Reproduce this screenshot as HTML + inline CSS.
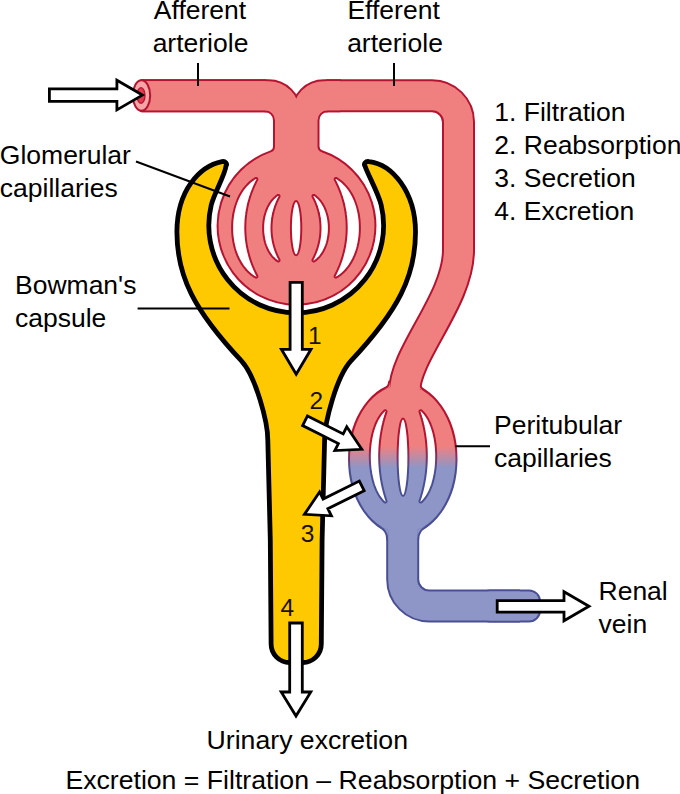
<!DOCTYPE html>
<html><head><meta charset="utf-8"><style>
html,body{margin:0;padding:0;background:#fff;}
svg{display:block;}
</style></head><body>
<svg width="680" height="794" viewBox="0 0 680 794">
<rect width="680" height="794" fill="#fff"/>
<defs><linearGradient id="gf" gradientUnits="userSpaceOnUse" x1="0" y1="446" x2="0" y2="468"><stop offset="0" stop-color="#F08080"/><stop offset="1" stop-color="#8D96C7"/></linearGradient><linearGradient id="gs" gradientUnits="userSpaceOnUse" x1="0" y1="446" x2="0" y2="468"><stop offset="0" stop-color="#B51430"/><stop offset="1" stop-color="#4A4F94"/></linearGradient></defs>
<g fill="none" stroke="url(#gs)" stroke-width="33.0"><path d="M 141.5,95.75 H 266.25"/><path d="M 326.25,95.75 H 432 A 26.5 26.5 0 0 1 458.5,122 V 250 C 458.5,300 404.5,354 404.5,392"/><path d="M 402.7,505 V 579.4 A 26.5 26.5 0 0 0 429.2,605.9 H 520"/></g>
<g fill="url(#gs)" stroke="url(#gs)" stroke-width="4.0" stroke-linejoin="round"><path d="M 265.0,110.25 A 10 10 0 0 1 275.0,120.25 V 146.63 A 6 6 0 0 1 270.97,152.30 A 77.9 77.9 0 1 0 321.57,152.14 A 6 6 0 0 1 317.5,146.46 V 120.25 A 10 10 0 0 1 327.5,110.25 V 100 H 265.0 Z"/><path d="M 141.5,81.25 H 268.56611479578777 A 31 31 0 0 1 299.56611479578777,112.25 V 110.25 H 141.5 Z"/><path d="M 323.93388520421223,81.25 A 31 31 0 0 0 292.93388520421223,112.25 V 110.25 H 340 V 81.25 Z"/><ellipse cx="402.75" cy="459" rx="52.75" ry="74"/><rect x="480" y="591.4" width="59" height="29" rx="10" ry="10"/><path d="M 390.00,382.19 Q 390.00,387.19 384.45,389.60 L 390.00,387.19 Z"/><path d="M 419.00,383.60 Q 419.00,388.60 424.30,391.46 L 419.00,388.60 Z"/><path d="M 388.20,539.13 Q 388.20,530.13 379.40,525.36 L 388.20,530.13 Z"/><path d="M 417.20,539.17 Q 417.20,530.17 426.00,525.42 L 417.20,530.17 Z"/></g>
<g fill="none" stroke="url(#gf)" stroke-width="29"><path d="M 141.5,95.75 H 266.25"/><path d="M 326.25,95.75 H 432 A 26.5 26.5 0 0 1 458.5,122 V 250 C 458.5,300 404.5,354 404.5,392"/><path d="M 402.7,505 V 579.4 A 26.5 26.5 0 0 0 429.2,605.9 H 520"/></g>
<g fill="url(#gf)" stroke="none"><path d="M 265.0,110.25 A 10 10 0 0 1 275.0,120.25 V 146.63 A 6 6 0 0 1 270.97,152.30 A 77.9 77.9 0 1 0 321.57,152.14 A 6 6 0 0 1 317.5,146.46 V 120.25 A 10 10 0 0 1 327.5,110.25 V 100 H 265.0 Z"/><path d="M 141.5,81.25 H 268.56611479578777 A 31 31 0 0 1 299.56611479578777,112.25 V 110.25 H 141.5 Z"/><path d="M 323.93388520421223,81.25 A 31 31 0 0 0 292.93388520421223,112.25 V 110.25 H 340 V 81.25 Z"/><ellipse cx="402.75" cy="459" rx="52.75" ry="74"/><rect x="480" y="591.4" width="59" height="29" rx="10" ry="10"/><path d="M 390.00,382.19 Q 390.00,387.19 384.45,389.60 L 390.00,387.19 Z"/><path d="M 419.00,383.60 Q 419.00,388.60 424.30,391.46 L 419.00,388.60 Z"/><path d="M 388.20,539.13 Q 388.20,530.13 379.40,525.36 L 388.20,530.13 Z"/><path d="M 417.20,539.17 Q 417.20,530.17 426.00,525.42 L 417.20,530.17 Z"/></g>
<g fill="#fff" stroke="url(#gs)" stroke-width="2.0" stroke-linejoin="round"><path d="M 255.44,277.46 L 255.68,277.57 L 255.93,277.63 L 256.19,277.64 L 256.44,277.60 L 256.69,277.51 L 256.91,277.37 L 257.09,277.20 L 257.24,276.98 L 257.35,276.75 L 257.41,276.49 L 257.41,276.24 L 257.36,275.98 L 257.27,275.74 L 256.60,274.47 L 256.59,274.46 L 255.76,272.80 L 255.76,272.79 L 254.96,271.12 L 254.95,271.11 L 254.19,269.44 L 254.18,269.43 L 253.45,267.74 L 253.44,267.73 L 252.74,266.03 L 252.73,266.02 L 252.06,264.31 L 252.06,264.30 L 251.42,262.59 L 251.42,262.58 L 250.81,260.85 L 250.80,260.84 L 250.23,259.11 L 250.23,259.10 L 249.68,257.36 L 249.68,257.35 L 249.17,255.60 L 249.16,255.59 L 248.68,253.84 L 248.68,253.83 L 248.23,252.07 L 248.23,252.06 L 247.81,250.30 L 247.81,250.29 L 247.43,248.52 L 247.43,248.51 L 247.07,246.73 L 247.07,246.72 L 246.75,244.94 L 246.75,244.93 L 246.46,243.15 L 246.46,243.14 L 246.21,241.35 L 246.20,241.34 L 245.98,239.55 L 245.98,239.54 L 245.79,237.75 L 245.79,237.74 L 245.63,235.95 L 245.63,235.93 L 245.50,234.14 L 245.50,234.13 L 245.40,232.33 L 245.40,232.32 L 245.34,230.52 L 245.34,230.51 L 245.30,228.71 L 245.30,228.70 L 245.30,226.90 L 245.30,226.89 L 245.34,225.09 L 245.34,225.08 L 245.40,223.28 L 245.40,223.27 L 245.50,221.47 L 245.50,221.46 L 245.63,219.67 L 245.63,219.65 L 245.79,217.86 L 245.79,217.85 L 245.98,216.06 L 245.98,216.05 L 246.20,214.26 L 246.21,214.25 L 246.46,212.46 L 246.46,212.45 L 246.75,210.67 L 246.75,210.66 L 247.07,208.88 L 247.07,208.87 L 247.43,207.09 L 247.43,207.08 L 247.81,205.31 L 247.81,205.30 L 248.23,203.54 L 248.23,203.53 L 248.68,201.77 L 248.68,201.76 L 249.16,200.01 L 249.17,200.00 L 249.68,198.25 L 249.68,198.24 L 250.23,196.50 L 250.23,196.49 L 250.80,194.76 L 250.81,194.75 L 251.42,193.02 L 251.42,193.01 L 252.06,191.30 L 252.06,191.29 L 252.73,189.58 L 252.74,189.57 L 253.44,187.87 L 253.45,187.86 L 254.18,186.17 L 254.19,186.16 L 254.95,184.49 L 254.96,184.48 L 255.76,182.81 L 255.76,182.80 L 256.59,181.14 L 256.60,181.13 L 257.27,179.86 L 257.36,179.62 L 257.41,179.36 L 257.41,179.11 L 257.35,178.85 L 257.24,178.62 L 257.09,178.40 L 256.91,178.23 L 256.69,178.09 L 256.44,178.00 L 256.19,177.96 L 255.93,177.97 L 255.68,178.03 L 255.44,178.14 L 254.08,178.97 L 254.02,179.01 L 252.45,180.08 L 252.40,180.12 L 250.89,181.27 L 250.84,181.31 L 249.39,182.54 L 249.34,182.59 L 247.95,183.90 L 247.90,183.94 L 246.57,185.32 L 246.53,185.37 L 245.25,186.82 L 245.22,186.87 L 244.00,188.39 L 243.97,188.43 L 242.81,190.02 L 242.78,190.06 L 241.69,191.71 L 241.66,191.76 L 240.62,193.46 L 240.60,193.51 L 239.62,195.27 L 239.60,195.31 L 238.68,197.13 L 238.66,197.17 L 237.81,199.03 L 237.79,199.07 L 236.99,200.98 L 236.98,201.02 L 236.24,202.97 L 236.23,203.01 L 235.55,205.00 L 235.54,205.04 L 234.93,207.07 L 234.92,207.11 L 234.36,209.16 L 234.35,209.20 L 233.86,211.29 L 233.85,211.33 L 233.42,213.44 L 233.42,213.47 L 233.05,215.61 L 233.04,215.64 L 232.74,217.80 L 232.73,217.83 L 232.48,220.00 L 232.48,220.04 L 232.30,222.21 L 232.29,222.25 L 232.17,224.44 L 232.17,224.47 L 232.11,226.67 L 232.11,226.70 L 232.11,228.90 L 232.11,228.93 L 232.17,231.13 L 232.17,231.16 L 232.29,233.35 L 232.30,233.39 L 232.48,235.56 L 232.48,235.60 L 232.73,237.77 L 232.74,237.80 L 233.04,239.96 L 233.05,239.99 L 233.42,242.13 L 233.42,242.16 L 233.85,244.27 L 233.86,244.31 L 234.35,246.40 L 234.36,246.44 L 234.92,248.49 L 234.93,248.53 L 235.54,250.56 L 235.55,250.60 L 236.23,252.59 L 236.24,252.63 L 236.98,254.58 L 236.99,254.62 L 237.79,256.53 L 237.81,256.57 L 238.66,258.43 L 238.68,258.47 L 239.60,260.29 L 239.62,260.33 L 240.60,262.09 L 240.62,262.14 L 241.66,263.84 L 241.69,263.89 L 242.78,265.54 L 242.81,265.58 L 243.97,267.17 L 244.00,267.21 L 245.22,268.73 L 245.25,268.78 L 246.53,270.23 L 246.57,270.28 L 247.90,271.66 L 247.95,271.70 L 249.34,273.01 L 249.39,273.06 L 250.84,274.29 L 250.89,274.33 L 252.40,275.48 L 252.45,275.52 L 254.02,276.59 L 254.08,276.63 L 255.44,277.46 Z"/><path d="M 279.41,196.80 L 279.50,196.57 L 279.55,196.33 L 279.55,196.08 L 279.51,195.84 L 279.42,195.61 L 279.29,195.40 L 279.12,195.22 L 278.93,195.07 L 278.70,194.96 L 278.46,194.90 L 278.22,194.89 L 277.97,194.92 L 277.74,194.99 L 277.52,195.11 L 277.03,195.45 L 276.97,195.49 L 275.96,196.27 L 275.90,196.31 L 274.93,197.14 L 274.88,197.19 L 273.94,198.07 L 273.90,198.12 L 273.00,199.05 L 272.96,199.10 L 272.10,200.08 L 272.06,200.13 L 271.25,201.15 L 271.21,201.20 L 270.43,202.27 L 270.40,202.32 L 269.66,203.44 L 269.63,203.48 L 268.93,204.64 L 268.91,204.68 L 268.25,205.88 L 268.22,205.92 L 267.60,207.15 L 267.58,207.19 L 267.00,208.46 L 266.99,208.50 L 266.45,209.79 L 266.43,209.84 L 265.93,211.16 L 265.92,211.20 L 265.46,212.55 L 265.45,212.59 L 265.03,213.97 L 265.02,214.01 L 264.65,215.41 L 264.64,215.45 L 264.31,216.87 L 264.30,216.90 L 264.01,218.34 L 264.00,218.38 L 263.75,219.83 L 263.74,219.87 L 263.54,221.33 L 263.53,221.37 L 263.36,222.84 L 263.36,222.88 L 263.24,224.36 L 263.23,224.40 L 263.15,225.89 L 263.15,225.92 L 263.11,227.42 L 263.11,227.45 L 263.11,228.95 L 263.11,228.98 L 263.15,230.48 L 263.15,230.51 L 263.23,232.00 L 263.24,232.04 L 263.36,233.52 L 263.36,233.56 L 263.53,235.03 L 263.54,235.07 L 263.74,236.53 L 263.75,236.57 L 264.00,238.02 L 264.01,238.06 L 264.30,239.50 L 264.31,239.53 L 264.64,240.95 L 264.65,240.99 L 265.02,242.39 L 265.03,242.43 L 265.45,243.81 L 265.46,243.85 L 265.92,245.20 L 265.93,245.24 L 266.43,246.56 L 266.45,246.61 L 266.99,247.90 L 267.00,247.94 L 267.58,249.21 L 267.60,249.25 L 268.22,250.48 L 268.25,250.52 L 268.91,251.72 L 268.93,251.76 L 269.63,252.92 L 269.66,252.96 L 270.40,254.08 L 270.43,254.13 L 271.21,255.20 L 271.25,255.25 L 272.06,256.27 L 272.10,256.32 L 272.96,257.30 L 273.00,257.35 L 273.90,258.28 L 273.94,258.33 L 274.88,259.21 L 274.93,259.26 L 275.90,260.09 L 275.96,260.13 L 276.97,260.91 L 277.03,260.95 L 277.52,261.29 L 277.74,261.41 L 277.97,261.48 L 278.22,261.51 L 278.46,261.50 L 278.70,261.44 L 278.93,261.33 L 279.12,261.18 L 279.29,261.00 L 279.42,260.79 L 279.51,260.56 L 279.55,260.32 L 279.55,260.07 L 279.50,259.83 L 279.41,259.60 L 279.12,259.08 L 279.12,259.07 L 278.54,257.92 L 278.53,257.91 L 277.98,256.77 L 277.97,256.76 L 277.44,255.60 L 277.43,255.59 L 276.92,254.43 L 276.92,254.42 L 276.43,253.25 L 276.42,253.24 L 275.96,252.07 L 275.95,252.06 L 275.51,250.88 L 275.51,250.87 L 275.09,249.68 L 275.09,249.67 L 274.69,248.48 L 274.69,248.47 L 274.32,247.28 L 274.31,247.27 L 273.97,246.07 L 273.96,246.06 L 273.64,244.85 L 273.63,244.84 L 273.33,243.64 L 273.33,243.62 L 273.05,242.42 L 273.05,242.40 L 272.79,241.19 L 272.79,241.18 L 272.56,239.96 L 272.56,239.95 L 272.35,238.73 L 272.35,238.72 L 272.16,237.50 L 272.16,237.49 L 272.00,236.27 L 271.99,236.25 L 271.86,235.03 L 271.85,235.02 L 271.74,233.79 L 271.74,233.78 L 271.64,232.55 L 271.64,232.54 L 271.57,231.31 L 271.57,231.30 L 271.53,230.07 L 271.53,230.06 L 271.50,228.83 L 271.50,228.81 L 271.50,227.59 L 271.50,227.57 L 271.53,226.34 L 271.53,226.33 L 271.57,225.10 L 271.57,225.09 L 271.64,223.86 L 271.64,223.85 L 271.74,222.62 L 271.74,222.61 L 271.85,221.38 L 271.86,221.37 L 271.99,220.15 L 272.00,220.13 L 272.16,218.91 L 272.16,218.90 L 272.35,217.68 L 272.35,217.67 L 272.56,216.45 L 272.56,216.44 L 272.79,215.22 L 272.79,215.21 L 273.05,214.00 L 273.05,213.98 L 273.33,212.78 L 273.33,212.76 L 273.63,211.56 L 273.64,211.55 L 273.96,210.34 L 273.97,210.33 L 274.31,209.13 L 274.32,209.12 L 274.69,207.93 L 274.69,207.92 L 275.09,206.73 L 275.09,206.72 L 275.51,205.53 L 275.51,205.52 L 275.95,204.34 L 275.96,204.33 L 276.42,203.16 L 276.43,203.15 L 276.92,201.98 L 276.92,201.97 L 277.43,200.81 L 277.44,200.80 L 277.97,199.64 L 277.98,199.63 L 278.53,198.49 L 278.54,198.48 L 279.12,197.33 L 279.12,197.32 L 279.41,196.80 Z"/><path d="M 314.48,195.11 L 314.26,194.99 L 314.03,194.92 L 313.78,194.89 L 313.54,194.90 L 313.30,194.96 L 313.07,195.07 L 312.88,195.22 L 312.71,195.40 L 312.58,195.61 L 312.49,195.84 L 312.45,196.08 L 312.45,196.33 L 312.50,196.57 L 312.59,196.80 L 312.88,197.32 L 312.88,197.33 L 313.46,198.48 L 313.47,198.49 L 314.02,199.63 L 314.03,199.64 L 314.56,200.80 L 314.57,200.81 L 315.08,201.97 L 315.08,201.98 L 315.57,203.15 L 315.58,203.16 L 316.04,204.33 L 316.05,204.34 L 316.49,205.52 L 316.49,205.53 L 316.91,206.72 L 316.91,206.73 L 317.31,207.92 L 317.31,207.93 L 317.68,209.12 L 317.69,209.13 L 318.03,210.33 L 318.04,210.34 L 318.36,211.55 L 318.37,211.56 L 318.67,212.76 L 318.67,212.78 L 318.95,213.98 L 318.95,214.00 L 319.21,215.21 L 319.21,215.22 L 319.44,216.44 L 319.44,216.45 L 319.65,217.67 L 319.65,217.68 L 319.84,218.90 L 319.84,218.91 L 320.00,220.13 L 320.01,220.15 L 320.14,221.37 L 320.15,221.38 L 320.26,222.61 L 320.26,222.62 L 320.36,223.85 L 320.36,223.86 L 320.43,225.09 L 320.43,225.10 L 320.47,226.33 L 320.47,226.34 L 320.50,227.57 L 320.50,227.59 L 320.50,228.81 L 320.50,228.83 L 320.47,230.06 L 320.47,230.07 L 320.43,231.30 L 320.43,231.31 L 320.36,232.54 L 320.36,232.55 L 320.26,233.78 L 320.26,233.79 L 320.15,235.02 L 320.14,235.03 L 320.01,236.25 L 320.00,236.27 L 319.84,237.49 L 319.84,237.50 L 319.65,238.72 L 319.65,238.73 L 319.44,239.95 L 319.44,239.96 L 319.21,241.18 L 319.21,241.19 L 318.95,242.40 L 318.95,242.42 L 318.67,243.62 L 318.67,243.64 L 318.37,244.84 L 318.36,244.85 L 318.04,246.06 L 318.03,246.07 L 317.69,247.27 L 317.68,247.28 L 317.31,248.47 L 317.31,248.48 L 316.91,249.67 L 316.91,249.68 L 316.49,250.87 L 316.49,250.88 L 316.05,252.06 L 316.04,252.07 L 315.58,253.24 L 315.57,253.25 L 315.08,254.42 L 315.08,254.43 L 314.57,255.59 L 314.56,255.60 L 314.03,256.76 L 314.02,256.77 L 313.47,257.91 L 313.46,257.92 L 312.88,259.07 L 312.88,259.08 L 312.59,259.60 L 312.50,259.83 L 312.45,260.07 L 312.45,260.32 L 312.49,260.56 L 312.58,260.79 L 312.71,261.00 L 312.88,261.18 L 313.07,261.33 L 313.30,261.44 L 313.54,261.50 L 313.78,261.51 L 314.03,261.48 L 314.26,261.41 L 314.48,261.29 L 314.97,260.95 L 315.03,260.91 L 316.04,260.13 L 316.10,260.09 L 317.07,259.26 L 317.12,259.21 L 318.06,258.33 L 318.10,258.28 L 319.00,257.35 L 319.04,257.30 L 319.90,256.32 L 319.94,256.27 L 320.75,255.25 L 320.79,255.20 L 321.57,254.13 L 321.60,254.08 L 322.34,252.96 L 322.37,252.92 L 323.07,251.76 L 323.09,251.72 L 323.75,250.52 L 323.78,250.48 L 324.40,249.25 L 324.42,249.21 L 325.00,247.94 L 325.01,247.90 L 325.55,246.61 L 325.57,246.56 L 326.07,245.24 L 326.08,245.20 L 326.54,243.85 L 326.55,243.81 L 326.97,242.43 L 326.98,242.39 L 327.35,240.99 L 327.36,240.95 L 327.69,239.53 L 327.70,239.50 L 327.99,238.06 L 328.00,238.02 L 328.25,236.57 L 328.26,236.53 L 328.46,235.07 L 328.47,235.03 L 328.64,233.56 L 328.64,233.52 L 328.76,232.04 L 328.77,232.00 L 328.85,230.51 L 328.85,230.48 L 328.89,228.98 L 328.89,228.95 L 328.89,227.45 L 328.89,227.42 L 328.85,225.92 L 328.85,225.89 L 328.77,224.40 L 328.76,224.36 L 328.64,222.88 L 328.64,222.84 L 328.47,221.37 L 328.46,221.33 L 328.26,219.87 L 328.25,219.83 L 328.00,218.38 L 327.99,218.34 L 327.70,216.90 L 327.69,216.87 L 327.36,215.45 L 327.35,215.41 L 326.98,214.01 L 326.97,213.97 L 326.55,212.59 L 326.54,212.55 L 326.08,211.20 L 326.07,211.16 L 325.57,209.84 L 325.55,209.79 L 325.01,208.50 L 325.00,208.46 L 324.42,207.19 L 324.40,207.15 L 323.78,205.92 L 323.75,205.88 L 323.09,204.68 L 323.07,204.64 L 322.37,203.48 L 322.34,203.44 L 321.60,202.32 L 321.57,202.27 L 320.79,201.20 L 320.75,201.15 L 319.94,200.13 L 319.90,200.08 L 319.04,199.10 L 319.00,199.05 L 318.10,198.12 L 318.06,198.07 L 317.12,197.19 L 317.07,197.14 L 316.10,196.31 L 316.04,196.27 L 315.03,195.49 L 314.97,195.45 L 314.48,195.11 Z"/><path d="M 336.56,178.14 L 336.32,178.03 L 336.07,177.97 L 335.81,177.96 L 335.56,178.00 L 335.31,178.09 L 335.09,178.23 L 334.91,178.40 L 334.76,178.62 L 334.65,178.85 L 334.59,179.11 L 334.59,179.36 L 334.64,179.62 L 334.73,179.86 L 335.40,181.13 L 335.41,181.14 L 336.24,182.80 L 336.24,182.81 L 337.04,184.48 L 337.05,184.49 L 337.81,186.16 L 337.82,186.17 L 338.55,187.86 L 338.56,187.87 L 339.26,189.57 L 339.27,189.58 L 339.94,191.29 L 339.94,191.30 L 340.58,193.01 L 340.58,193.02 L 341.19,194.75 L 341.20,194.76 L 341.77,196.49 L 341.77,196.50 L 342.32,198.24 L 342.32,198.25 L 342.83,200.00 L 342.84,200.01 L 343.32,201.76 L 343.32,201.77 L 343.77,203.53 L 343.77,203.54 L 344.19,205.30 L 344.19,205.31 L 344.57,207.08 L 344.57,207.09 L 344.93,208.87 L 344.93,208.88 L 345.25,210.66 L 345.25,210.67 L 345.54,212.45 L 345.54,212.46 L 345.79,214.25 L 345.80,214.26 L 346.02,216.05 L 346.02,216.06 L 346.21,217.85 L 346.21,217.86 L 346.37,219.65 L 346.37,219.67 L 346.50,221.46 L 346.50,221.47 L 346.60,223.27 L 346.60,223.28 L 346.66,225.08 L 346.66,225.09 L 346.70,226.89 L 346.70,226.90 L 346.70,228.70 L 346.70,228.71 L 346.66,230.51 L 346.66,230.52 L 346.60,232.32 L 346.60,232.33 L 346.50,234.13 L 346.50,234.14 L 346.37,235.93 L 346.37,235.95 L 346.21,237.74 L 346.21,237.75 L 346.02,239.54 L 346.02,239.55 L 345.80,241.34 L 345.79,241.35 L 345.54,243.14 L 345.54,243.15 L 345.25,244.93 L 345.25,244.94 L 344.93,246.72 L 344.93,246.73 L 344.57,248.51 L 344.57,248.52 L 344.19,250.29 L 344.19,250.30 L 343.77,252.06 L 343.77,252.07 L 343.32,253.83 L 343.32,253.84 L 342.84,255.59 L 342.83,255.60 L 342.32,257.35 L 342.32,257.36 L 341.77,259.10 L 341.77,259.11 L 341.20,260.84 L 341.19,260.85 L 340.58,262.58 L 340.58,262.59 L 339.94,264.30 L 339.94,264.31 L 339.27,266.02 L 339.26,266.03 L 338.56,267.73 L 338.55,267.74 L 337.82,269.43 L 337.81,269.44 L 337.05,271.11 L 337.04,271.12 L 336.24,272.79 L 336.24,272.80 L 335.41,274.46 L 335.40,274.47 L 334.73,275.74 L 334.64,275.98 L 334.59,276.24 L 334.59,276.49 L 334.65,276.75 L 334.76,276.98 L 334.91,277.20 L 335.09,277.37 L 335.31,277.51 L 335.56,277.60 L 335.81,277.64 L 336.07,277.63 L 336.32,277.57 L 336.56,277.46 L 337.92,276.63 L 337.98,276.59 L 339.55,275.52 L 339.60,275.48 L 341.11,274.33 L 341.16,274.29 L 342.61,273.06 L 342.66,273.01 L 344.05,271.70 L 344.10,271.66 L 345.43,270.28 L 345.47,270.23 L 346.75,268.78 L 346.78,268.73 L 348.00,267.21 L 348.03,267.17 L 349.19,265.58 L 349.22,265.54 L 350.31,263.89 L 350.34,263.84 L 351.38,262.14 L 351.40,262.09 L 352.38,260.33 L 352.40,260.29 L 353.32,258.47 L 353.34,258.43 L 354.19,256.57 L 354.21,256.53 L 355.01,254.62 L 355.02,254.58 L 355.76,252.63 L 355.77,252.59 L 356.45,250.60 L 356.46,250.56 L 357.07,248.53 L 357.08,248.49 L 357.64,246.44 L 357.65,246.40 L 358.14,244.31 L 358.15,244.27 L 358.58,242.16 L 358.58,242.13 L 358.95,239.99 L 358.96,239.96 L 359.26,237.80 L 359.27,237.77 L 359.52,235.60 L 359.52,235.56 L 359.70,233.39 L 359.71,233.35 L 359.83,231.16 L 359.83,231.13 L 359.89,228.93 L 359.89,228.90 L 359.89,226.70 L 359.89,226.67 L 359.83,224.47 L 359.83,224.44 L 359.71,222.25 L 359.70,222.21 L 359.52,220.04 L 359.52,220.00 L 359.27,217.83 L 359.26,217.80 L 358.96,215.64 L 358.95,215.61 L 358.58,213.47 L 358.58,213.44 L 358.15,211.33 L 358.14,211.29 L 357.65,209.20 L 357.64,209.16 L 357.08,207.11 L 357.07,207.07 L 356.46,205.04 L 356.45,205.00 L 355.77,203.01 L 355.76,202.97 L 355.02,201.02 L 355.01,200.98 L 354.21,199.07 L 354.19,199.03 L 353.34,197.17 L 353.32,197.13 L 352.40,195.31 L 352.38,195.27 L 351.40,193.51 L 351.38,193.46 L 350.34,191.76 L 350.31,191.71 L 349.22,190.06 L 349.19,190.02 L 348.03,188.43 L 348.00,188.39 L 346.78,186.87 L 346.75,186.82 L 345.47,185.37 L 345.43,185.32 L 344.10,183.94 L 344.05,183.90 L 342.66,182.59 L 342.61,182.54 L 341.16,181.31 L 341.11,181.27 L 339.60,180.12 L 339.55,180.08 L 337.98,179.01 L 337.92,178.97 L 336.56,178.14 Z"/><path d="M 386.49,412.01 L 386.55,411.77 L 386.56,411.52 L 386.52,411.28 L 386.44,411.04 L 386.32,410.83 L 386.16,410.64 L 385.96,410.49 L 385.74,410.37 L 385.51,410.30 L 385.26,410.28 L 385.01,410.30 L 384.77,410.37 L 384.55,410.49 L 384.36,410.64 L 383.43,411.54 L 383.37,411.59 L 382.38,412.66 L 382.33,412.71 L 381.37,413.86 L 381.33,413.91 L 380.41,415.13 L 380.37,415.18 L 379.48,416.47 L 379.45,416.52 L 378.60,417.88 L 378.58,417.93 L 377.76,419.35 L 377.74,419.40 L 376.97,420.89 L 376.95,420.93 L 376.21,422.48 L 376.20,422.52 L 375.50,424.13 L 375.49,424.17 L 374.83,425.83 L 374.82,425.86 L 374.20,427.57 L 374.19,427.61 L 373.62,429.36 L 373.61,429.40 L 373.07,431.20 L 373.06,431.23 L 372.57,433.07 L 372.56,433.10 L 372.11,434.98 L 372.10,435.01 L 371.69,436.92 L 371.68,436.95 L 371.31,438.89 L 371.31,438.92 L 370.98,440.88 L 370.97,440.91 L 370.69,442.90 L 370.68,442.93 L 370.43,444.94 L 370.43,444.97 L 370.22,447.00 L 370.22,447.03 L 370.06,449.07 L 370.06,449.10 L 369.93,451.15 L 369.93,451.18 L 369.85,453.24 L 369.85,453.27 L 369.81,455.34 L 369.81,455.36 L 369.81,457.44 L 369.81,457.46 L 369.85,459.53 L 369.85,459.56 L 369.93,461.62 L 369.93,461.65 L 370.06,463.70 L 370.06,463.73 L 370.22,465.77 L 370.22,465.80 L 370.43,467.83 L 370.43,467.86 L 370.68,469.87 L 370.69,469.90 L 370.97,471.89 L 370.98,471.92 L 371.31,473.88 L 371.31,473.91 L 371.68,475.85 L 371.69,475.88 L 372.10,477.79 L 372.11,477.82 L 372.56,479.70 L 372.57,479.73 L 373.06,481.57 L 373.07,481.60 L 373.61,483.40 L 373.62,483.44 L 374.19,485.19 L 374.20,485.23 L 374.82,486.94 L 374.83,486.97 L 375.49,488.63 L 375.50,488.67 L 376.20,490.28 L 376.21,490.32 L 376.95,491.87 L 376.97,491.91 L 377.74,493.40 L 377.76,493.45 L 378.58,494.87 L 378.60,494.92 L 379.45,496.28 L 379.48,496.33 L 380.37,497.62 L 380.41,497.67 L 381.33,498.89 L 381.37,498.94 L 382.33,500.09 L 382.38,500.14 L 383.37,501.21 L 383.43,501.26 L 384.36,502.16 L 384.55,502.31 L 384.77,502.43 L 385.01,502.50 L 385.26,502.52 L 385.51,502.50 L 385.74,502.43 L 385.96,502.31 L 386.16,502.16 L 386.32,501.97 L 386.44,501.76 L 386.52,501.52 L 386.56,501.28 L 386.55,501.03 L 386.49,500.79 L 386.30,500.27 L 386.30,500.26 L 385.78,498.70 L 385.77,498.69 L 385.27,497.12 L 385.27,497.11 L 384.79,495.53 L 384.78,495.53 L 384.32,493.94 L 384.32,493.93 L 383.88,492.33 L 383.87,492.32 L 383.45,490.72 L 383.45,490.71 L 383.05,489.10 L 383.04,489.09 L 382.66,487.47 L 382.66,487.46 L 382.30,485.83 L 382.30,485.82 L 381.95,484.18 L 381.95,484.18 L 381.63,482.53 L 381.63,482.52 L 381.33,480.88 L 381.33,480.87 L 381.04,479.21 L 381.04,479.21 L 380.78,477.54 L 380.78,477.54 L 380.54,475.87 L 380.54,475.86 L 380.32,474.19 L 380.31,474.19 L 380.11,472.51 L 380.11,472.50 L 379.93,470.83 L 379.93,470.82 L 379.77,469.14 L 379.77,469.13 L 379.63,467.45 L 379.63,467.44 L 379.51,465.75 L 379.51,465.74 L 379.40,464.06 L 379.40,464.05 L 379.32,462.36 L 379.32,462.35 L 379.26,460.66 L 379.26,460.65 L 379.22,458.96 L 379.22,458.95 L 379.20,457.25 L 379.20,457.25 L 379.20,455.55 L 379.20,455.55 L 379.22,453.85 L 379.22,453.84 L 379.26,452.15 L 379.26,452.14 L 379.32,450.45 L 379.32,450.44 L 379.40,448.75 L 379.40,448.74 L 379.51,447.06 L 379.51,447.05 L 379.63,445.36 L 379.63,445.35 L 379.77,443.67 L 379.77,443.66 L 379.93,441.98 L 379.93,441.97 L 380.11,440.30 L 380.11,440.29 L 380.31,438.61 L 380.32,438.61 L 380.54,436.94 L 380.54,436.93 L 380.78,435.26 L 380.78,435.26 L 381.04,433.59 L 381.04,433.59 L 381.33,431.93 L 381.33,431.92 L 381.63,430.28 L 381.63,430.27 L 381.95,428.62 L 381.95,428.62 L 382.30,426.98 L 382.30,426.97 L 382.66,425.34 L 382.66,425.33 L 383.04,423.71 L 383.05,423.70 L 383.45,422.09 L 383.45,422.08 L 383.87,420.48 L 383.88,420.47 L 384.32,418.87 L 384.32,418.86 L 384.78,417.27 L 384.79,417.27 L 385.27,415.69 L 385.27,415.68 L 385.77,414.11 L 385.78,414.10 L 386.30,412.54 L 386.30,412.53 L 386.49,412.01 Z"/><path d="M 421.64,410.64 L 421.45,410.49 L 421.23,410.37 L 420.99,410.30 L 420.74,410.28 L 420.49,410.30 L 420.26,410.37 L 420.04,410.49 L 419.84,410.64 L 419.68,410.83 L 419.56,411.04 L 419.48,411.28 L 419.44,411.52 L 419.45,411.77 L 419.51,412.01 L 419.70,412.53 L 419.70,412.54 L 420.22,414.10 L 420.23,414.11 L 420.73,415.68 L 420.73,415.69 L 421.21,417.27 L 421.22,417.27 L 421.68,418.86 L 421.68,418.87 L 422.12,420.47 L 422.13,420.48 L 422.55,422.08 L 422.55,422.09 L 422.95,423.70 L 422.96,423.71 L 423.34,425.33 L 423.34,425.34 L 423.70,426.97 L 423.70,426.98 L 424.05,428.62 L 424.05,428.62 L 424.37,430.27 L 424.37,430.28 L 424.67,431.92 L 424.67,431.93 L 424.96,433.59 L 424.96,433.59 L 425.22,435.26 L 425.22,435.26 L 425.46,436.93 L 425.46,436.94 L 425.68,438.61 L 425.69,438.61 L 425.89,440.29 L 425.89,440.30 L 426.07,441.97 L 426.07,441.98 L 426.23,443.66 L 426.23,443.67 L 426.37,445.35 L 426.37,445.36 L 426.49,447.05 L 426.49,447.06 L 426.60,448.74 L 426.60,448.75 L 426.68,450.44 L 426.68,450.45 L 426.74,452.14 L 426.74,452.15 L 426.78,453.84 L 426.78,453.85 L 426.80,455.55 L 426.80,455.55 L 426.80,457.25 L 426.80,457.25 L 426.78,458.95 L 426.78,458.96 L 426.74,460.65 L 426.74,460.66 L 426.68,462.35 L 426.68,462.36 L 426.60,464.05 L 426.60,464.06 L 426.49,465.74 L 426.49,465.75 L 426.37,467.44 L 426.37,467.45 L 426.23,469.13 L 426.23,469.14 L 426.07,470.82 L 426.07,470.83 L 425.89,472.50 L 425.89,472.51 L 425.69,474.19 L 425.68,474.19 L 425.46,475.86 L 425.46,475.87 L 425.22,477.54 L 425.22,477.54 L 424.96,479.21 L 424.96,479.21 L 424.67,480.87 L 424.67,480.88 L 424.37,482.52 L 424.37,482.53 L 424.05,484.18 L 424.05,484.18 L 423.70,485.82 L 423.70,485.83 L 423.34,487.46 L 423.34,487.47 L 422.96,489.09 L 422.95,489.10 L 422.55,490.71 L 422.55,490.72 L 422.13,492.32 L 422.12,492.33 L 421.68,493.93 L 421.68,493.94 L 421.22,495.53 L 421.21,495.53 L 420.73,497.11 L 420.73,497.12 L 420.23,498.69 L 420.22,498.70 L 419.70,500.26 L 419.70,500.27 L 419.51,500.79 L 419.45,501.03 L 419.44,501.28 L 419.48,501.52 L 419.56,501.76 L 419.68,501.97 L 419.84,502.16 L 420.04,502.31 L 420.26,502.43 L 420.49,502.50 L 420.74,502.52 L 420.99,502.50 L 421.23,502.43 L 421.45,502.31 L 421.64,502.16 L 422.57,501.26 L 422.63,501.21 L 423.62,500.14 L 423.67,500.09 L 424.63,498.94 L 424.67,498.89 L 425.59,497.67 L 425.63,497.62 L 426.52,496.33 L 426.55,496.28 L 427.40,494.92 L 427.42,494.87 L 428.24,493.45 L 428.26,493.40 L 429.03,491.91 L 429.05,491.87 L 429.79,490.32 L 429.80,490.28 L 430.50,488.67 L 430.51,488.63 L 431.17,486.97 L 431.18,486.94 L 431.80,485.23 L 431.81,485.19 L 432.38,483.44 L 432.39,483.40 L 432.93,481.60 L 432.94,481.57 L 433.43,479.73 L 433.44,479.70 L 433.89,477.82 L 433.90,477.79 L 434.31,475.88 L 434.32,475.85 L 434.69,473.91 L 434.69,473.88 L 435.02,471.92 L 435.03,471.89 L 435.31,469.90 L 435.32,469.87 L 435.57,467.86 L 435.57,467.83 L 435.78,465.80 L 435.78,465.77 L 435.94,463.73 L 435.94,463.70 L 436.07,461.65 L 436.07,461.62 L 436.15,459.56 L 436.15,459.53 L 436.19,457.46 L 436.19,457.44 L 436.19,455.36 L 436.19,455.34 L 436.15,453.27 L 436.15,453.24 L 436.07,451.18 L 436.07,451.15 L 435.94,449.10 L 435.94,449.07 L 435.78,447.03 L 435.78,447.00 L 435.57,444.97 L 435.57,444.94 L 435.32,442.93 L 435.31,442.90 L 435.03,440.91 L 435.02,440.88 L 434.69,438.92 L 434.69,438.89 L 434.32,436.95 L 434.31,436.92 L 433.90,435.01 L 433.89,434.98 L 433.44,433.10 L 433.43,433.07 L 432.94,431.23 L 432.93,431.20 L 432.39,429.40 L 432.38,429.36 L 431.81,427.61 L 431.80,427.57 L 431.18,425.86 L 431.17,425.83 L 430.51,424.17 L 430.50,424.13 L 429.80,422.52 L 429.79,422.48 L 429.05,420.93 L 429.03,420.89 L 428.26,419.40 L 428.24,419.35 L 427.42,417.93 L 427.40,417.88 L 426.55,416.52 L 426.52,416.47 L 425.63,415.18 L 425.59,415.13 L 424.67,413.91 L 424.63,413.86 L 423.67,412.71 L 423.62,412.66 L 422.63,411.59 L 422.57,411.54 L 421.64,410.64 Z"/><ellipse cx="296.1" cy="228.1" rx="5.2" ry="27.2"/><ellipse cx="403" cy="457.2" rx="5.4" ry="38.7"/></g>
<ellipse cx="141.5" cy="95.5" rx="8.7" ry="15.2" fill="#F5A5A5" stroke="#B51430" stroke-width="2.0"/>
<ellipse cx="141" cy="95.5" rx="4" ry="7.8" fill="#E23A50" stroke="#B51430" stroke-width="1.3"/>
<path d="M 222,161.6 C 200,166 177,190 176.9,232 C 176.9,276.48 194.17,310.38 241.24,360.72 C 255.91,376.41 267.8,422.41 267.8,440 L 270.3,540 L 271.1,644 A 18.5 18.5 0 0 0 289.6,662.5 H 302.8 A 18.5 18.5 0 0 0 321.3,644 L 322.1,540 L 324.6,440 C 324.6,422.41 336.49,376.41 351.16,360.72 C 398.23,310.38 415.5,276.48 415.5,232 C 415.5,192 392,164 369,161.6 C 365.5,161 363.5,164 365,166 C 368,175 378.5,193.3 381.16,205 A 87.4 87.4 0 1 1 211.24,205 C 214.05,193.3 225,175 226,166 C 227.5,164 225.5,161 222,161.6 Z" fill="#FFC900" stroke="#000" stroke-width="4.8" stroke-linejoin="round"/>
<g stroke="#000" stroke-width="2" fill="none"><path d="M198,63 V86"/><path d="M394,63 V86"/><path d="M136,161.5 L230,196.5"/><path d="M137.6,308.6 H229.5"/><path d="M455.4,446.2 H490"/></g>
<path d="M49.40,88.90 L116.90,88.90 L116.90,80.30 L142.40,95.10 L116.90,109.90 L116.90,101.30 L49.40,101.30 Z" fill="#fff" stroke="#000" stroke-width="2.8" stroke-linejoin="miter" stroke-miterlimit="10"/>
<path d="M302.30,282.30 L302.30,349.30 L311.00,349.30 L296.20,374.30 L281.40,349.30 L290.10,349.30 L290.10,282.30 Z" fill="#fff" stroke="#000" stroke-width="2.8" stroke-linejoin="miter" stroke-miterlimit="10"/>
<path d="M302.30,623.00 L302.30,692.00 L310.80,692.00 L296.00,716.00 L281.20,692.00 L289.70,692.00 L289.70,623.00 Z" fill="#fff" stroke="#000" stroke-width="2.8" stroke-linejoin="miter" stroke-miterlimit="10"/>
<path d="M497.20,600.55 L564.00,600.55 L564.00,591.80 L589.00,606.30 L564.00,620.80 L564.00,612.05 L497.20,612.05 Z" fill="#fff" stroke="#000" stroke-width="2.8" stroke-linejoin="miter" stroke-miterlimit="10"/>
<path d="M307.48,415.93 L343.21,433.90 L346.76,426.84 L361.78,449.28 L334.81,450.60 L338.36,443.55 L302.62,425.57 Z" fill="#fff" stroke="#000" stroke-width="2.8" stroke-linejoin="miter" stroke-miterlimit="10"/>
<path d="M364.15,490.74 L327.87,508.74 L331.39,515.82 L304.42,514.36 L319.56,491.99 L323.07,499.07 L359.35,481.06 Z" fill="#fff" stroke="#000" stroke-width="2.8" stroke-linejoin="miter" stroke-miterlimit="10"/>
<g style="font-family:'Liberation Sans',sans-serif">
<text x="307.9" y="344.3" font-size="24.5" text-anchor="start" fill="#1a1000">1</text>
<text x="309.4" y="409.1" font-size="24.5" text-anchor="start" fill="#1a1000">2</text>
<text x="300.8" y="541.9" font-size="24.5" text-anchor="start" fill="#1a1000">3</text>
<text x="280.5" y="615.8" font-size="24.5" text-anchor="start" fill="#1a1000">4</text>
<text x="200" y="19" font-size="26.5" text-anchor="middle" fill="#000">Afferent</text>
<text x="200.5" y="52" font-size="26.5" text-anchor="middle" fill="#000">arteriole</text>
<text x="393.6" y="19" font-size="26.5" text-anchor="middle" fill="#000">Efferent</text>
<text x="395" y="52" font-size="26.5" text-anchor="middle" fill="#000">arteriole</text>
<text x="494.3" y="120.7" font-size="26.5" text-anchor="start" fill="#000">1. Filtration</text>
<text x="494.3" y="153.7" font-size="26.5" text-anchor="start" fill="#000">2. Reabsorption</text>
<text x="494.3" y="186.7" font-size="26.5" text-anchor="start" fill="#000">3. Secretion</text>
<text x="494.3" y="219.7" font-size="26.5" text-anchor="start" fill="#000">4. Excretion</text>
<text x="-0.2" y="163.8" font-size="26.5" text-anchor="start" fill="#000">Glomerular</text>
<text x="-0.2" y="196.8" font-size="26.5" text-anchor="start" fill="#000">capillaries</text>
<text x="15" y="294" font-size="26.5" text-anchor="start" fill="#000">Bowman's</text>
<text x="15" y="326.5" font-size="26.5" text-anchor="start" fill="#000">capsule</text>
<text x="494" y="433.7" font-size="26.5" text-anchor="start" fill="#000">Peritubular</text>
<text x="494" y="466.8" font-size="26.5" text-anchor="start" fill="#000">capillaries</text>
<text x="598.5" y="599.7" font-size="26.5" text-anchor="start" fill="#000">Renal</text>
<text x="598.5" y="632.5" font-size="26.5" text-anchor="start" fill="#000">vein</text>
<text x="206.6" y="748.8" font-size="26.65" text-anchor="start" fill="#000">Urinary excretion</text>
<text x="65.4" y="788.5" font-size="26.65" text-anchor="start" fill="#000">Excretion = Filtration – Reabsorption + Secretion</text>
</g>
</svg>
</body></html>
